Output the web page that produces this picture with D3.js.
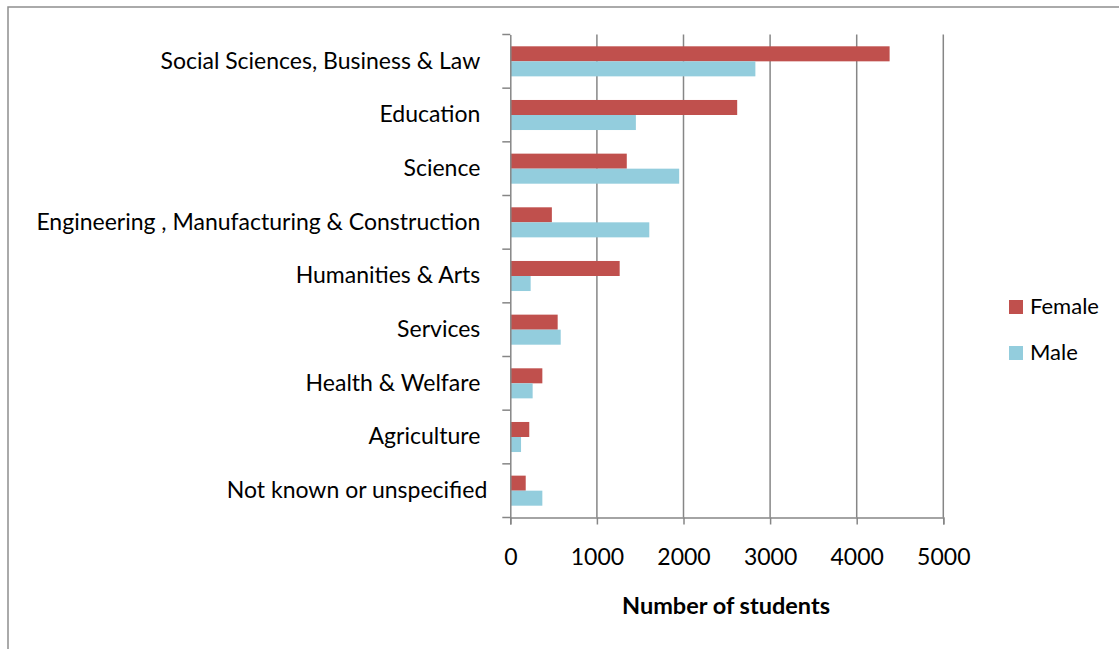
<!DOCTYPE html>
<html><head><meta charset="utf-8">
<script src="https://cdn.jsdelivr.net/npm/d3@7"></script>
<style>body{margin:0;background:#fff}svg{display:block}</style>
</head><body>
<svg id="c" width="1119" height="649"></svg>
<script>
const categories = ["Social Sciences, Business & Law","Education","Science","Engineering , Manufacturing & Construction","Humanities & Arts","Services","Health & Welfare","Agriculture","Not known or unspecified"];
const series = ["Female","Male"];
const female = [4380, 2620, 1345, 480, 1263, 547, 370, 219, 178];
const male = [2830, 1450, 1950, 1605, 235, 582, 258, 124, 370];
const xTicks = [0,1000,2000,3000,4000,5000];
const colors = {Female:"#C0504D", Male:"#93CDDD"};

const svg = d3.select("#c");
const font = "Lato, 'Open Sans', sans-serif";
const L = 510.3, R = 943.3, T = 34.5, B = 517.5;

svg.append("rect").attr("x",8).attr("y",7).attr("width",1130).attr("height",660)
  .attr("fill","none").attr("stroke","#8f8f8f").attr("stroke-width",1.5);

const x = d3.scaleLinear().domain([0,5000]).range([L,R]);
const y = d3.scaleBand().domain(categories).range([T,B]).paddingInner(0.44).paddingOuter(0.22);
const ys = d3.scaleBand().domain(series).range([0,y.bandwidth()]);

// gridlines
svg.append("g").selectAll("line").data(xTicks.slice(1)).join("line")
  .attr("x1",d=>x(d)).attr("x2",d=>x(d)).attr("y1",T).attr("y2",B)
  .attr("stroke","#868686").attr("stroke-width",1.5);

// bars
const data = categories.map((c,i)=>({c, Female:female[i], Male:male[i]}));
const g = svg.append("g");
data.forEach(d=>{
  series.forEach(s=>{
    g.append("rect").attr("x",x(0)).attr("y",y(d.c)+ys(s))
      .attr("width",x(d[s])-x(0)).attr("height",ys.bandwidth())
      .attr("fill",colors[s]);
  });
});

// x axis
const xa = svg.append("g").attr("transform",`translate(0,${B})`)
  .call(d3.axisBottom(x).tickValues(xTicks).tickSize(7).tickPadding(24).tickFormat(d3.format("d")));
xa.select(".domain").attr("stroke","#868686").attr("stroke-width",1.5);
xa.selectAll(".tick line").attr("stroke","#868686").attr("stroke-width",1.5);
xa.selectAll("text").attr("font-family",font).attr("font-size",23).attr("fill","#000");

// y axis
const ya = svg.append("g").attr("transform",`translate(${L},0)`)
  .call(d3.axisLeft(y).tickSize(0).tickPadding(30));
ya.select(".domain").attr("stroke","#868686").attr("stroke-width",1.5);
ya.selectAll("text").attr("font-family",font).attr("font-size",23).attr("fill","#000");
ya.selectAll("text").filter(d=>d===categories[categories.length-1]).attr("x",-23);
// category boundary ticks
const step = (B-T)/categories.length;
svg.append("g").selectAll("line").data(d3.range(categories.length+1)).join("line")
  .attr("x1",L-8).attr("x2",L).attr("y1",d=>T+d*step).attr("y2",d=>T+d*step)
  .attr("stroke","#868686").attr("stroke-width",1.5);

// axis title
svg.append("text").attr("x",726).attr("y",614).attr("text-anchor","middle")
  .attr("font-family",font).attr("font-size",23.5).attr("font-weight","bold").text("Number of students");

// legend
const lg = svg.append("g");
series.forEach((s,i)=>{
  lg.append("rect").attr("x",1009).attr("y",300+i*46).attr("width",14).attr("height",14).attr("fill",colors[s]);
  lg.append("text").attr("x",1030).attr("y",314+i*45.5).attr("font-family",font).attr("font-size",22).text(s);
});
</script>
</body></html>
